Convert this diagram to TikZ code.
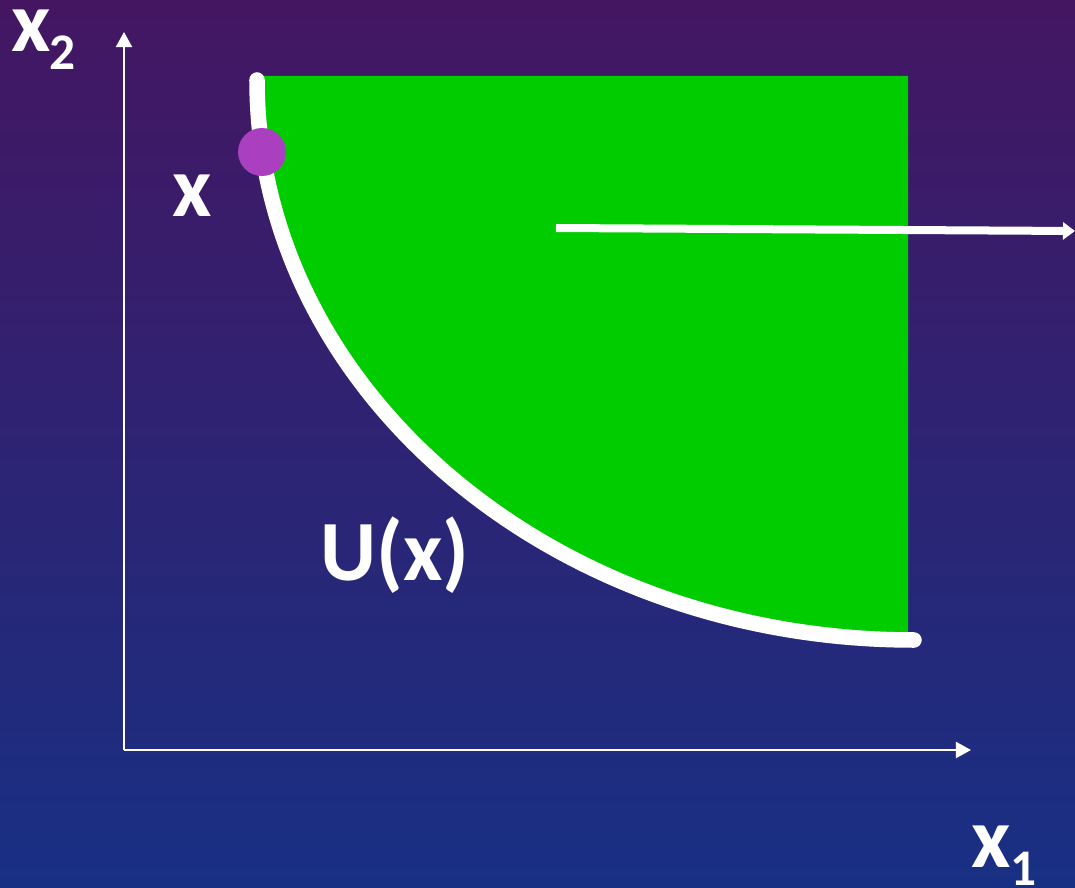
\documentclass[tikz,border=0pt]{standalone}
\usepackage{fontspec}
\setmainfont{Carlito}
\usetikzlibrary{arrows.meta}
\definecolor{bgtop}{RGB}{68,22,98}
\definecolor{bgmid}{RGB}{42,32,112}
\definecolor{bgbot}{RGB}{24,48,132}
\definecolor{regiongreen}{RGB}{0,204,0}
\definecolor{dotpurple}{RGB}{170,64,192}
\tikzset{
  lbl/.style={text=white, inner sep=0pt, anchor=base west, font=\bfseries\fontsize{24.4}{28}\selectfont},
  sublbl/.style={text=white, inner sep=0pt, anchor=base west, font=\bfseries\fontsize{14.6}{17}\selectfont},
  axis/.style={white, line width=0.02cm, -{Triangle[length=0.15cm,width=0.16cm]}},
  pointer/.style={white, line width=0.08cm, -{Triangle[length=0.12cm,width=0.17cm]}},
  frontier/.style={white, line width=0.155cm, line cap=round}
}
\begin{document}
\begin{tikzpicture}[x=0.01cm,y=0.01cm]
  % background
  \shade[top color=bgtop, middle color=bgmid, bottom color=bgbot] (0,0) rectangle (1075,887);
  \useasboundingbox (0,0) rectangle (1075,887);
  % axes
  \coordinate (O) at (124,137);
  \coordinate (ytip) at (124,855);
  \coordinate (xtip) at (971,137);
  \draw[axis] (O) -- (ytip);
  \draw[axis] (O) -- (xtip);
  % upper contour set
  \fill[regiongreen] (257,811) -- (908,811) -- (908,247) -- (914,247)
     arc[start angle=270, end angle=180, x radius=657, y radius=560] -- cycle;
  % frontier
  \coordinate (fstart) at (257,807);
  \draw[frontier] (fstart) arc[start angle=180, end angle=270, x radius=657, y radius=560] coordinate (fend);
  % point x
  \fill[dotpurple] (262,735) circle[radius=24];
  \node[circle, minimum size=0.48cm, inner sep=0pt] (pt) at (262,735) {};
  % arrow
  \coordinate (astart) at (556,659);
  \coordinate (aend) at (1075,656);
  \draw[pointer] (astart) -- (aend);
  % labels
  \node[lbl, text height=0.42cm, text depth=0pt] (x2) at (11,835) {x};
  \node[sublbl, text depth=0pt] (x2sub) at (49,817) {2};
  \node[lbl] (xlab) at (172,670) {x};
  \node[lbl] (ulab) at (320,307) {U(x)};
  \node[lbl, text depth=0pt] (x1) at (971,20) {x};
  \node[sublbl, text height=0.33cm, text depth=0pt] (x1sub) at (1010,2) {1};
\end{tikzpicture}
\end{document}
